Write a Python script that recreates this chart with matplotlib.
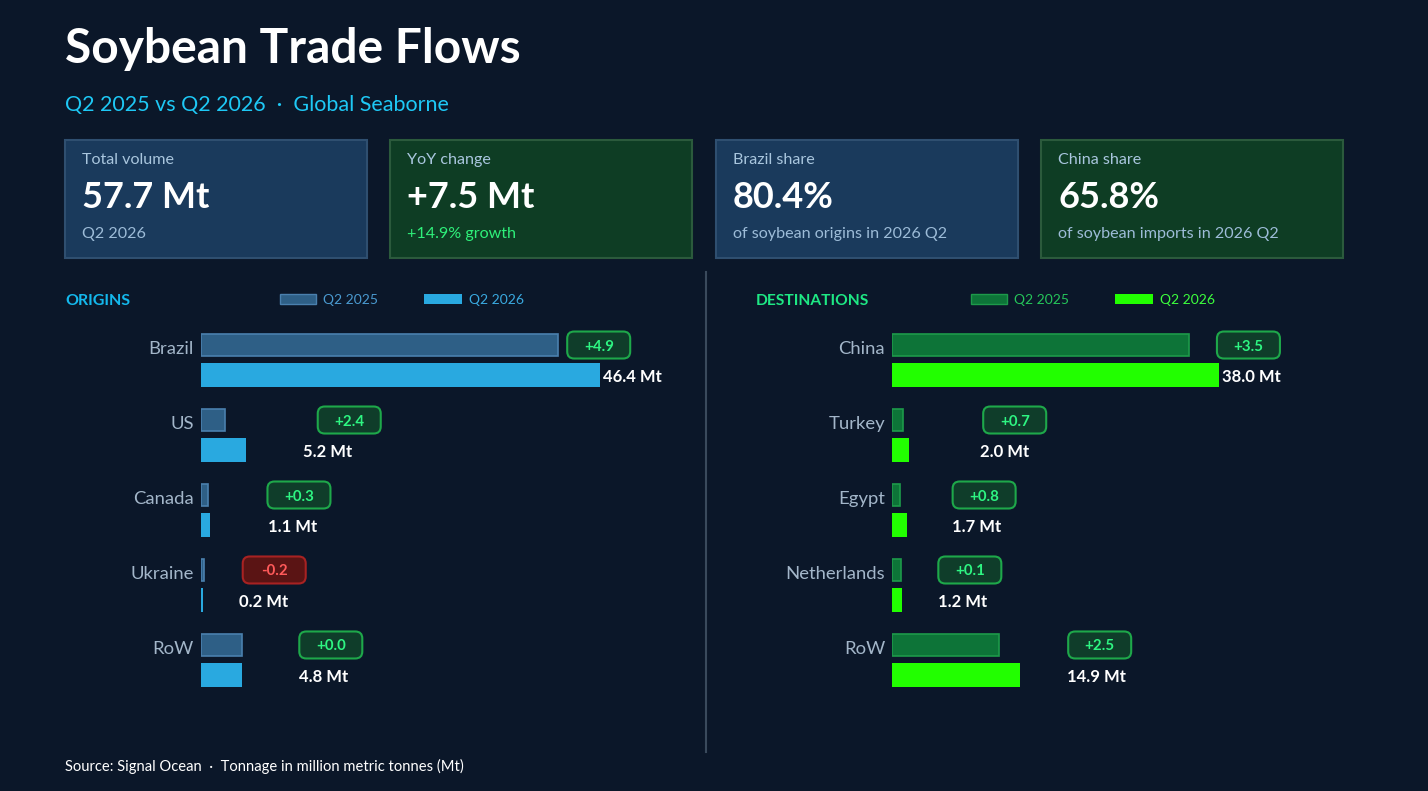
import matplotlib
matplotlib.use("Agg")
import matplotlib.pyplot as plt
from matplotlib.patches import FancyBboxPatch, Rectangle

plt.rcParams["font.family"] = ["Lato", "DejaVu Sans"]

# --- data ---------------------------------------------------------------
origins = ["Brazil", "US", "Canada", "Ukraine", "RoW"]
origins_q2_2025 = [41.5, 2.8, 0.8, 0.4, 4.8]
origins_q2_2026 = [46.4, 5.2, 1.1, 0.2, 4.8]
origins_change = [4.9, 2.4, 0.3, -0.2, 0.0]

destinations = ["China", "Turkey", "Egypt", "Netherlands", "RoW"]
dest_q2_2025 = [34.5, 1.3, 0.9, 1.1, 12.4]
dest_q2_2026 = [38.0, 2.0, 1.7, 1.2, 14.9]
dest_change = [3.5, 0.7, 0.8, 0.1, 2.5]

kpi_labels = ["Total volume", "YoY change", "Brazil share", "China share"]
kpi_values = ["57.7 Mt", "+7.5 Mt", "80.4%", "65.8%"]
kpi_notes = ["Q2 2026", "+14.9% growth", "of soybean origins in 2026 Q2",
             "of soybean imports in 2026 Q2"]

# --- layout (pixels) ----------------------------------------------------
W, H = 1428, 791
BG = "#0b1729"
# per-row horizontal gaps (px) after the Q2 2026 bar end
orig_label_gap = [3, 57, 58, 36, 57]
orig_badge_gap = [-33, 72, 57, 40, 57]
dest_label_gap = [3, 71, 45, 36, 47]
dest_badge_gap = [-2, 74, 46, 36, 48]

fig = plt.figure(figsize=(W / 100, H / 100), dpi=100, facecolor=BG)
bg = fig.add_axes([0, 0, 1, 1])
bg.set_xlim(0, W)
bg.set_ylim(H, 0)
bg.axis("off")
bg.set_facecolor(BG)

# title block
bg.text(65, 49, "Soybean Trade Flows", color="white", fontsize=34.5,
        fontweight="bold", va="center", ha="left")
bg.text(65, 105, "Q2 2025 vs Q2 2026  \u00b7  Global Seaborne", color="#1ec8f5",
        fontsize=15.5, va="center", ha="left")

# KPI cards
card_x = [65, 390, 716, 1041]
card_fill = ["#1a3a5c", "#0e3d24", "#1a3a5c", "#0e3d24"]
card_edge = ["#2f4f70", "#2b5a3c", "#2f4f70", "#2b5a3c"]
note_color = ["#9dbcd8", "#2ef07a", "#9dbcd8", "#9dbcd8"]
for i in range(4):
    bg.add_patch(Rectangle((card_x[i], 140), 302, 118, facecolor=card_fill[i],
                           edgecolor=card_edge[i], lw=1.5))
    bg.text(card_x[i] + 17, 160, kpi_labels[i], color="#a9c6de", fontsize=11.6,
            va="center", ha="left")
    bg.text(card_x[i] + 17, 197, kpi_values[i], color="white", fontsize=26,
            fontweight="bold", va="center", ha="left")
    bg.text(card_x[i] + 17, 234, kpi_notes[i], color=note_color[i], fontsize=11.6,
            va="center", ha="left")

# divider
bg.plot([706, 706], [272, 752], color="#3a4a5c", lw=1.5)

# footer
bg.text(65, 766, "Source: Signal Ocean  \u00b7  Tonnage in million metric tonnes (Mt)",
        color="white", fontsize=10.6, va="center", ha="left")


def panel(x0, title, title_size, title_color, legend_x, cats, v25, v26, chg,
          c25, e25, c26, leg25_color, leg26_color, label_gap, badge_gap):
    bg.text(65 if x0 < 700 else 756, 301, title, color=title_color,
            fontsize=title_size, fontweight="bold", va="center", ha="left")
    # legend
    bg.add_patch(Rectangle((legend_x[0], 294), 36, 10, facecolor=c25,
                           edgecolor=e25, lw=1))
    bg.text(legend_x[0] + 43, 300, "Q2 2025", color=leg25_color, fontsize=10,
            va="center", ha="left")
    bg.add_patch(Rectangle((legend_x[1], 294), 38, 10, facecolor=c26,
                           edgecolor="none"))
    bg.text(legend_x[1] + 45, 300, "Q2 2026", color=leg26_color, fontsize=10,
            va="center", ha="left")

    ax = fig.add_axes([x0 / W, (H - 710) / H, 499 / W, 400 / H])
    ax.set_xlim(0, 58)
    ax.set_ylim(4.667, -0.667)
    ax.axis("off")
    ax.patch.set_alpha(0)
    ys = list(range(len(cats)))
    y25 = [y - 0.2 for y in ys]
    y26 = [y + 0.195 for y in ys]
    ax.barh(y25, v25, height=0.305, color=c25, edgecolor=e25, lw=1.2)
    ax.barh(y26, v26, height=0.32, color=c26, edgecolor="none")

    inv = bg.transData.inverted()
    for i, cat in enumerate(cats):
        px0, py25 = inv.transform(ax.transData.transform((0, y25[i])))
        pend, py26 = inv.transform(ax.transData.transform((v26[i], y26[i])))
        bg.text(px0 - 7, py25 + 4, cat, color="#a3b6c9", fontsize=13.3,
                va="center", ha="right")
        bg.text(pend + label_gap[i], py26 + 2, f"{v26[i]:.1f} Mt", color="white",
                fontsize=12, fontweight="bold", va="center", ha="left")
        neg = chg[i] < 0
        bx = pend + badge_gap[i]
        bg.add_patch(FancyBboxPatch((bx, py25 - 13.5), 63, 27,
                                    boxstyle="round,pad=0,rounding_size=7",
                                    facecolor="#5a1414" if neg else "#0f3d2a",
                                    edgecolor="#a82222" if neg else "#1ea84a",
                                    lw=1.5))
        bg.text(bx + 31.5, py25 + 1.5, f"{chg[i]:+.1f}",
                color="#ff5a5a" if neg else "#2ef582", fontsize=10.8,
                fontweight="bold", va="center", ha="center")
    return ax


panel(201, "ORIGINS", 11.5, "#14b8ec", (280, 424), origins, origins_q2_2025,
      origins_q2_2026, origins_change, "#2e5f86", "#4a80ae", "#29a9e0",
      "#4a9ad0", "#3aaae0", orig_label_gap, orig_badge_gap)
panel(892, "DESTINATIONS", 11.2, "#1ee884", (971, 1115), destinations, dest_q2_2025,
      dest_q2_2026, dest_change, "#0d7438", "#1d9a4a", "#22ff00",
      "#25c55a", "#3dff3d", dest_label_gap, dest_badge_gap)

fig.savefig("out.png", dpi=100, facecolor=BG)
